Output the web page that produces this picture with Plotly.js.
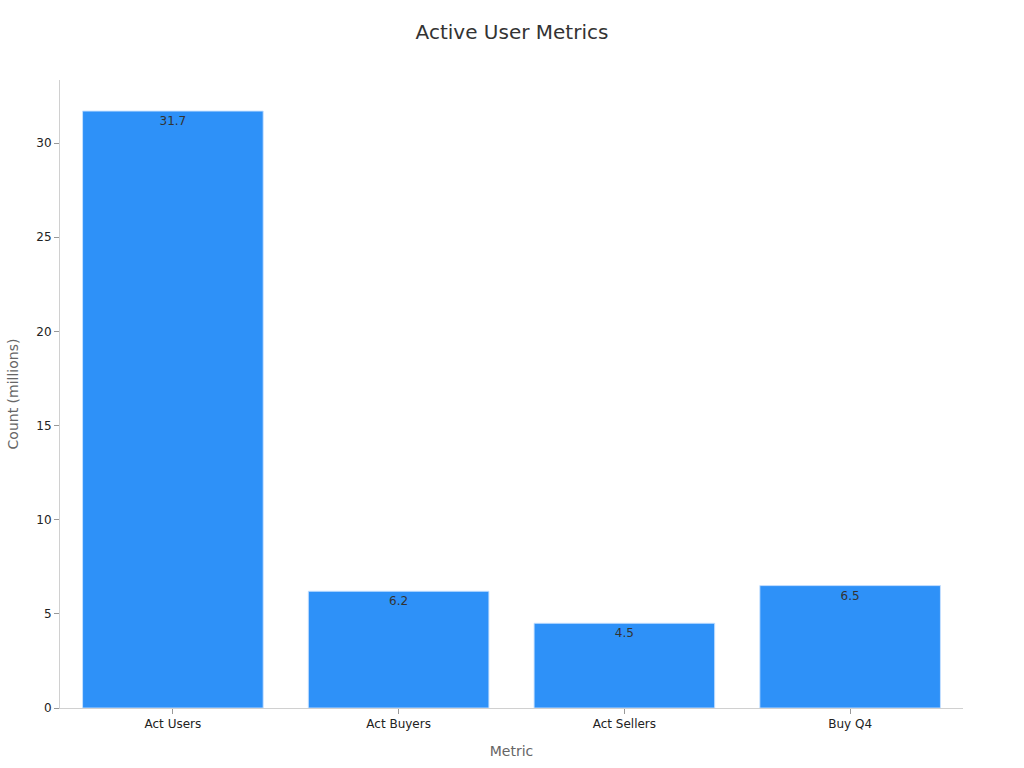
<!DOCTYPE html>
<html><head><meta charset="utf-8">
<script src="https://cdn.plot.ly/plotly-3.0.1.min.js"></script>
<style>html,body{margin:0;padding:0;background:#fff}#chart{width:1024px;height:768px}</style>
</head><body><div id="chart"></div>
<script>
const categories = ["Act Users", "Act Buyers", "Act Sellers", "Buy Q4"];
const values = [31.7, 6.2, 4.5, 6.5];
const labels = ["31.7", "6.2", "4.5", "6.5"];

const trace = {
  type: "bar",
  x: categories,
  y: values,
  text: labels,
  textposition: "inside",
  insidetextanchor: "end",
  textangle: 0,
  textfont: {family: "DejaVu Sans", size: 12, color: "#333"},
  marker: {color: "#2E91F8", line: {color: "rgba(200,225,255,0.9)", width: 1}},
  hoverinfo: "none"
};

const layout = {
  width: 1024, height: 768,
  paper_bgcolor: "#fff", plot_bgcolor: "#fff",
  font: {family: "DejaVu Sans", color: "#222", size: 12},
  title: {text: "Active User Metrics", x: 0.5, xanchor: "center", y: 0.967, font: {size: 20, color: "#333"}},
  margin: {l: 60, r: 61, t: 80, b: 60},
  bargap: 0.2,
  showlegend: false,
  xaxis: {
    title: {text: "Metric", font: {size: 14, color: "#666"}, standoff: 15},
    showline: true, linecolor: "#d0d0d0", linewidth: 1,
    ticks: "outside", ticklen: 5, tickcolor: "#999",
    showgrid: false, tickfont: {size: 12, color: "#222"}
  },
  yaxis: {
    title: {text: "Count (millions)", font: {size: 14, color: "#666"}, standoff: 14},
    range: [0, 33.35],
    dtick: 5,
    showline: true, linecolor: "#d0d0d0", linewidth: 1,
    ticks: "outside", ticklen: 5, tickcolor: "#999",
    showgrid: false, zeroline: false, tickfont: {size: 12, color: "#222"}
  }
};

Plotly.newPlot("chart", [trace], layout, {displayModeBar: false, staticPlot: true});
</script>
</body></html>
